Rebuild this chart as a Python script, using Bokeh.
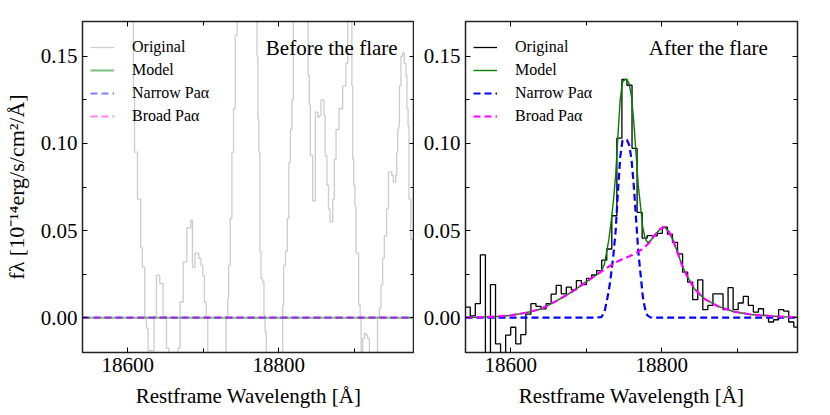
import numpy as np
from bokeh.plotting import figure
from bokeh.models import Range1d, FixedTicker, LinearAxis, Legend, LegendItem, Label
from bokeh.layouts import row
from bokeh.embed import file_html
from bokeh.resources import INLINE

# ---------------- data ----------------
xtick_values = [18600, 18800]
xtick_labels = ["18600", "18800"]
x_minor = [18500, 18700, 18900]
ytick_values = [0.0, 0.05, 0.10, 0.15]
ytick_labels = ["0.00", "0.05", "0.10", "0.15"]
y_minor = [-0.025, 0.025, 0.075, 0.125]

x_limits = (18540, 18980)
y_limits = (-0.02, 0.17)

# After the flare: binned spectrum (bin start + bin width, one flux per bin)
after_bin_start = 18539.6
after_bin_width = 6.7
after_flux = [0.006, 0.001, 0.008, 0.036, -0.04, 0.019, -0.015, -0.04, -0.010, -0.0055,
              -0.015, -0.0097, 0.002, 0.008, 0.0065, 0.005, 0.008, 0.0135, 0.0185, 0.0137,
              0.0175, 0.016, 0.0213, 0.019, 0.0225, 0.0245, 0.027, 0.033, 0.0394, 0.0585,
              0.103, 0.1367, 0.1334, 0.0972, 0.0604, 0.0457, 0.0471, 0.047, 0.0484, 0.052,
              0.048, 0.0432, 0.0366, 0.0261, 0.0204, 0.0103, 0.0217, 0.0046, 0.0071, 0.0137,
              0.0137, 0.0046, 0.0172, 0.0046, 0.0084, 0.0122, 0.0071, 0.0032, 0.0051, 0.0013,
              -0.0025, -0.0012, 0.0046, 0.0038, -0.0025, -0.0054]

# Before the flare: step starts and flux levels
before_lam = [18530.0, 18607.5, 18609.0, 18612.8, 18617.2, 18619.4, 18622.5, 18624.7, 18627.0, 18634.9,
              18638.0, 18642.4, 18646.8, 18651.3, 18654.4, 18666.7, 18669.4, 18673.4, 18678.2, 18683.5,
              18685.7, 18689.0, 18694.0, 18697.0, 18699.4, 18701.6, 18704.0, 18706.0, 18730.3, 18732.5,
              18733.6, 18735.8, 18738.0, 18740.2, 18742.4, 18745.0, 18771.3, 18772.5, 18773.7, 18775.0,
              18776.6, 18778.8, 18780.5, 18782.0, 18783.5, 18804.0, 18805.3, 18806.5, 18809.0, 18811.5,
              18813.5, 18815.5, 18817.5, 18819.5, 18839.0, 18840.6, 18842.0, 18845.0, 18848.6, 18851.7,
              18854.0, 18856.0, 18860.0, 18861.5, 18864.0, 18866.0, 18868.0, 18871.6, 18873.8, 18876.0,
              18880.0, 18884.8, 18889.0, 18891.5, 18897.0, 18898.0, 18899.5, 18901.0, 18902.5, 18906.0,
              18908.0, 18909.2, 18911.3, 18913.5, 18915.7, 18918.0, 18920.2, 18929.0, 18931.0, 18933.4,
              18935.6, 18937.8, 18940.0, 18943.0, 18945.5, 18950.0, 18952.0, 18955.0, 18956.5, 18957.7,
              18959.0, 18960.0, 18962.0, 18964.3, 18966.5, 18968.7, 18970.0, 18971.5, 18972.7, 18975.0,
              18977.5, 18990.0]
before_flux = [0.25, 0.13, 0.095, 0.068, 0.040, 0.029, 0.0006, -0.006, -0.019, 0.0006,
               0.0244, 0.0196, 0.0006, -0.0175, -0.035, -0.0175, 0.009, 0.032, 0.0515, 0.0559,
               0.029, 0.037, 0.034, 0.030, 0.024, 0.009, 0.0006, -0.035, 0.0006, 0.011,
               0.030, 0.057, 0.095, 0.120, 0.162, 0.25, 0.150, 0.114, 0.095, 0.038,
               0.0225, 0.0206, 0.0015, -0.008, -0.035, -0.0195, 0.0072, 0.030, 0.038, 0.057,
               0.089, 0.108, 0.125, 0.25, 0.139, 0.122, 0.093, 0.067, 0.118, 0.115,
               0.116, 0.125, 0.116, 0.093, 0.076, 0.0625, 0.055, 0.068, 0.091, 0.108,
               0.120, 0.133, 0.146, 0.25, 0.133, 0.091, 0.076, 0.064, 0.037, 0.0072,
               0.0005, -0.0195, -0.012, -0.009, -0.010, -0.012, -0.035, -0.0195, 0.0005, 0.0053,
               0.0187, 0.034, 0.047, 0.0625, 0.0835, 0.0816, 0.0778, 0.0816, 0.095, 0.108,
               0.110, 0.133, 0.150, 0.152, 0.146, 0.139, 0.120, 0.110, 0.068, 0.045,
               0.025, 0.025]

# Model curves after the flare
model_lam = [18540, 18560, 18580, 18600, 18620, 18640, 18660, 18680, 18700, 18710,
             18720, 18724, 18727, 18730, 18733, 18736, 18739, 18742, 18745, 18748,
             18751, 18754, 18757, 18760, 18763, 18766, 18769, 18772, 18775, 18778,
             18781, 18785, 18790, 18798, 18804, 18810, 18815, 18821, 18827, 18834,
             18843, 18856, 18874, 18896, 18918, 18940, 18962, 18980]
narrow_after = [0, 0, 0, 0, 0, 0, 0, 0, 0, 0,
                0.0003, 0.003, 0.009, 0.0156, 0.025, 0.036, 0.05, 0.072, 0.092, 0.1015,
                0.1025, 0.102, 0.099, 0.091, 0.076, 0.057, 0.038, 0.025, 0.012, 0.005,
                0.0013, 0.0002, 0, 0, 0, 0, 0, 0, 0, 0,
                0, 0, 0, 0, 0, 0, 0, 0]
broad_after = [0.0001, 0.0003, 0.0006, 0.0013, 0.0028, 0.005, 0.0095, 0.0145, 0.0205, 0.0235,
               0.0265, 0.0276, 0.0285, 0.0293, 0.0301, 0.0309, 0.0317, 0.0324, 0.033, 0.0336,
               0.0342, 0.0347, 0.0352, 0.0358, 0.0365, 0.0372, 0.0379, 0.0387, 0.0396, 0.0406,
               0.042, 0.0438, 0.047, 0.0509, 0.052, 0.049, 0.0445, 0.0375, 0.030, 0.0235,
               0.0168, 0.011, 0.0066, 0.0034, 0.0018, 0.001, 0.0005, 0.0003]
model_after = [0.0001, 0.0003, 0.0006, 0.0013, 0.0028, 0.005, 0.0095, 0.0145, 0.0205, 0.0235,
               0.0268, 0.0306, 0.0375, 0.0449, 0.0551, 0.0669, 0.0817, 0.1044, 0.125, 0.1351,
               0.1367, 0.1367, 0.1342, 0.1268, 0.1125, 0.0942, 0.0759, 0.0637, 0.0516, 0.0456,
               0.0433, 0.044, 0.047, 0.0509, 0.052, 0.049, 0.0445, 0.0375, 0.030, 0.0235,
               0.0168, 0.011, 0.0066, 0.0034, 0.0018, 0.001, 0.0005, 0.0003]

# Model curves before the flare (all zero)
before_model_lam = [18540, 18980]
model_before = [0.0, 0.0]
narrow_before = [0.0, 0.0]
broad_before = [0.0, 0.0]

legend_labels = ["Original", "Model", "Narrow Pa\u03b1", "Broad Pa\u03b1"]
panel_titles = ["Before the flare", "After the flare"]
x_label = "Restframe Wavelength [\u00c5]"
y_label = "f\u03bb [10\u207b\u00b9\u2074erg/s/cm\u00b2/\u00c5]"

FONT = "Liberation Serif"


def style_axis(ax, ticks, minor, labels=None, show_labels=True):
    ax.ticker = FixedTicker(ticks=ticks, minor_ticks=minor)
    ax.major_tick_in = 5
    ax.major_tick_out = 0
    ax.minor_tick_in = 4
    ax.minor_tick_out = 0
    ax.major_tick_line_color = "black"
    ax.minor_tick_line_color = "black"
    ax.axis_line_color = None
    ax.major_label_text_font = FONT
    ax.major_label_text_color = "black"
    ax.major_label_text_font_size = "21px"
    if show_labels:
        ax.major_label_standoff = 5
        if labels is not None:
            ax.major_label_overrides = {t: l for t, l in zip(ticks, labels)}
    else:
        ax.major_label_standoff = 0
        ax.major_label_overrides = {t: "" for t in ticks}
    ax.axis_label_text_font = FONT
    ax.axis_label_text_font_size = "21px"
    ax.axis_label_text_font_style = "normal"
    ax.axis_label_text_color = "black"
    ax.axis_label_standoff = 9


def make_fig(left_border, right_border, ylab):
    p = figure(frame_width=332, frame_height=331,
               x_range=Range1d(*x_limits), y_range=Range1d(*y_limits),
               output_backend="svg", toolbar_location=None,
               min_border_left=left_border, min_border_right=right_border,
               min_border_top=21, min_border_bottom=50)
    p.xgrid.visible = False
    p.ygrid.visible = False
    p.outline_line_color = "#222222"
    p.outline_line_width = 1.5
    p.background_fill_color = "white"
    p.border_fill_color = "white"
    style_axis(p.xaxis[0], xtick_values, x_minor, xtick_labels)
    style_axis(p.yaxis[0], ytick_values, y_minor, ytick_labels)
    p.xaxis[0].axis_label = x_label
    if ylab:
        p.yaxis[0].axis_label = y_label
        p.yaxis[0].axis_label_text_font_size = "22px"
    top = LinearAxis()
    style_axis(top, xtick_values, x_minor, show_labels=False)
    p.add_layout(top, "above")
    right = LinearAxis()
    style_axis(right, ytick_values, y_minor, show_labels=False)
    p.add_layout(right, "right")
    return p


def add_legend(p, renderers):
    leg = Legend(items=[LegendItem(label=l, renderers=[r]) for l, r in zip(legend_labels, renderers)],
                 location=(8, 226))
    leg.border_line_color = None
    leg.background_fill_alpha = 0
    leg.label_text_font = FONT
    leg.label_text_font_size = "16px"
    leg.label_text_color = "black"
    leg.glyph_width = 24
    leg.glyph_height = 20
    leg.label_height = 20
    leg.spacing = 3
    leg.label_standoff = 18
    leg.padding = 7
    leg.margin = 0
    p.add_layout(leg)


def add_title(p, text):
    p.add_layout(Label(x=18783, y=0.155, text=text, text_font=FONT, text_font_size="21px",
                       text_color="black", text_baseline="alphabetic"))


# ---------------- left: before the flare ----------------
p1 = make_fig(81, 0, True)
r1 = p1.step(x=before_lam, y=before_flux, mode="after", line_color="black", line_alpha=0.2, line_width=1.3)
r2 = p1.line(before_model_lam, model_before, line_color="green", line_alpha=0.5, line_width=2)
r3 = p1.line(before_model_lam, narrow_before, line_color="blue", line_alpha=0.5, line_width=2.2,
             line_dash="7 4")
r4 = p1.line(before_model_lam, broad_before, line_color="magenta", line_alpha=0.5, line_width=2.2,
             line_dash="7 4")
add_legend(p1, [r1, r2, r3, r4])
add_title(p1, panel_titles[0])

# ---------------- right: after the flare ----------------
after_edges = list(after_bin_start + after_bin_width * np.arange(len(after_flux) + 1))
p2 = make_fig(51, 10, False)
q1 = p2.step(x=after_edges, y=after_flux + [after_flux[-1]], mode="after", line_color="black", line_width=1.3)
q2 = p2.line(model_lam, model_after, line_color="green", line_width=1.4)
q3 = p2.line(model_lam, narrow_after, line_color="blue", line_width=2.2, line_dash="7 4")
q4 = p2.line(model_lam, broad_after, line_color="magenta", line_width=2.2, line_dash="7 4")
add_legend(p2, [q1, q2, q3, q4])
add_title(p2, panel_titles[1])

layout = row(p1, p2)
open("out.html", "w").write(file_html(layout, INLINE))
